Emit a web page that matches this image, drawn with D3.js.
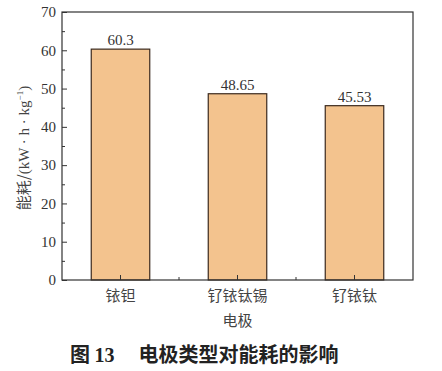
<!DOCTYPE html>
<html>
<head>
<meta charset="utf-8">
<script src="https://cdn.jsdelivr.net/npm/d3@7"></script>
<style>
  body { margin: 0; background: #fff; }
  svg text { fill: #333; }
</style>
</head>
<body>
<div id="chart"></div>
<script>
// Chart values
const categories = ["铱钽", "钌铱钛锡", "钌铱钛"];
const values = [60.3, 48.65, 45.53];
const valueLabels = ["60.3", "48.65", "45.53"];
const yTicks = [0, 10, 20, 30, 40, 50, 60, 70];
const yMinorTicks = [5, 15, 25, 35, 45, 55, 65];

const W = 442, H = 371;
const margin = { top: 12, right: 29, bottom: 91, left: 62 };
const width = W - margin.left - margin.right;
const height = H - margin.top - margin.bottom;

const svg = d3.select("#chart").append("svg")
  .attr("width", W).attr("height", H);

const g = svg.append("g")
  .attr("transform", `translate(${margin.left},${margin.top})`);

const x = d3.scaleBand().domain(categories).range([0, width]).paddingInner(0.5).paddingOuter(0.25);
const xBand = d3.scaleBand().domain(categories).range([0, width]);
const y = d3.scaleLinear().domain([0, 70]).range([height, 0]);

const serif = "'Liberation Serif', 'Times New Roman', serif";
const cjk = "'Noto Sans CJK SC', sans-serif";

// Bars
g.selectAll(".bar").data(values).enter().append("rect")
  .attr("class", "bar")
  .attr("x", (d, i) => x(categories[i]))
  .attr("y", d => y(d))
  .attr("width", x.bandwidth())
  .attr("height", d => height - y(d))
  .attr("fill", "#f3c38e")
  .attr("stroke", "#3b2a1e")
  .attr("stroke-width", 1.2);

// Value labels
g.selectAll(".val").data(values).enter().append("text")
  .attr("class", "val")
  .attr("x", (d, i) => x(categories[i]) + x.bandwidth() / 2)
  .attr("y", d => y(d) - 4)
  .attr("text-anchor", "middle")
  .style("font-family", serif)
  .style("font-size", "15px")
  .text((d, i) => valueLabels[i]);

// Y axis (ticks inward)
const yAxis = g.append("g")
  .call(d3.axisRight(y).tickValues(yTicks).tickSize(5).tickFormat(""));
yAxis.select(".domain").remove();
yAxis.selectAll("line").attr("stroke", "#333");
const yMinor = g.append("g")
  .call(d3.axisRight(y).tickValues(yMinorTicks).tickSize(3).tickFormat(""));
yMinor.select(".domain").remove();
yMinor.selectAll("line").attr("stroke", "#333");

g.selectAll(".ylab").data(yTicks).enter().append("text")
  .attr("class", "ylab")
  .attr("x", -6)
  .attr("y", d => y(d))
  .attr("dy", "0.35em")
  .attr("text-anchor", "end")
  .style("font-family", serif)
  .style("font-size", "15px")
  .text(d => d);

// X axis ticks (inward): major at centers, minor at band boundaries
const xMajor = g.append("g").attr("transform", `translate(0,${height})`)
  .call(d3.axisTop(x).tickSize(5).tickFormat(""));
xMajor.select(".domain").remove();
xMajor.selectAll("line").attr("stroke", "#333");
g.selectAll(".xminor").data(categories.slice(1)).enter().append("line")
  .attr("x1", d => xBand(d)).attr("x2", d => xBand(d))
  .attr("y1", height).attr("y2", height - 3)
  .attr("stroke", "#333");

g.selectAll(".xlab").data(categories).enter().append("text")
  .attr("x", d => x(d) + x.bandwidth() / 2)
  .attr("y", height + 21)
  .attr("text-anchor", "middle")
  .style("font-family", cjk)
  .style("font-size", "15px")
  .style("fill", "#444")
  .text(d => d);

// Frame
g.append("rect")
  .attr("width", width).attr("height", height)
  .attr("fill", "none").attr("stroke", "#333").attr("stroke-width", 1.2);

// Axis titles
svg.append("text")
  .attr("x", margin.left + width / 2)
  .attr("y", 326)
  .attr("text-anchor", "middle")
  .style("font-family", cjk)
  .style("font-size", "15px")
  .style("fill", "#444")
  .text("电极");

const yt = svg.append("text")
  .attr("transform", `translate(29,${margin.top + height / 2 + 2}) rotate(-90)`)
  .attr("text-anchor", "middle")
  .style("font-size", "15px")
  .style("fill", "#444");
yt.append("tspan").style("font-family", cjk).text("能耗/");
yt.append("tspan").style("font-family", serif).text("(kW · h · kg");
yt.append("tspan").style("font-family", serif).style("font-size", "9px").attr("dy", -6).text("−1");
yt.append("tspan").style("font-family", serif).attr("dy", 6).text(")");

// Caption
const cap = svg.append("text")
  .attr("x", 70).attr("y", 362)
  .style("font-size", "20px")
  .style("font-weight", "bold")
  .style("fill", "#222");
cap.append("tspan").style("font-family", cjk).text("图 ");
cap.append("tspan").style("font-family", serif).text("13");
cap.append("tspan").style("font-family", cjk).attr("dx", 24).text("电极类型对能耗的影响");
</script>
</body>
</html>
